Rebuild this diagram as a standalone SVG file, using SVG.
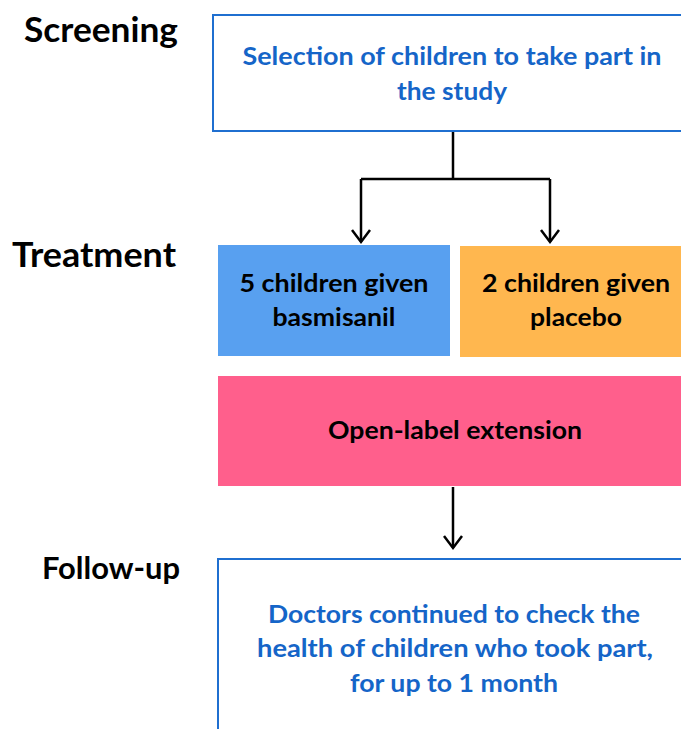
<svg xmlns="http://www.w3.org/2000/svg" width="681" height="729" viewBox="0 0 681 729">
<style>
.lbl{font-family:Lato,"Open Sans","Liberation Sans",sans-serif;font-weight:bold;fill:#000;text-anchor:end}
.bt{font-family:Lato,"Open Sans","Liberation Sans",sans-serif;font-weight:bold;font-size:24.5px;text-anchor:middle}
.blue{fill:#1565c8}
.blk{fill:#000}
.conn{fill:none;stroke:#000;stroke-width:2.5}
</style>
<defs>
<marker id="ah" markerWidth="20" markerHeight="20" refX="14" refY="10" orient="auto" markerUnits="userSpaceOnUse" viewBox="0 0 20 20">
<path d="M2,1 L14,10 L2,19" fill="none" stroke="#000" stroke-width="2.5"/>
</marker>
</defs>
<rect width="681" height="729" fill="#fff"/>
<g id="labels">
<text class="lbl" x="178" y="42" font-size="35" textLength="154" lengthAdjust="spacingAndGlyphs">Screening</text>
<text class="lbl" x="176" y="267" font-size="35" textLength="164" lengthAdjust="spacingAndGlyphs">Treatment</text>
<text class="lbl" x="180" y="579" font-size="30" textLength="138" lengthAdjust="spacingAndGlyphs">Follow-up</text>
</g>
<g id="node-screening">
<rect x="213" y="15" width="480" height="116" fill="#fff" stroke="#1f6fd0" stroke-width="2"/>
<text class="bt blue" x="452" y="65" textLength="419" lengthAdjust="spacingAndGlyphs">Selection of children to take part in</text>
<text class="bt blue" x="452" y="100" textLength="110" lengthAdjust="spacingAndGlyphs">the study</text>
</g>
<g id="node-basmisanil">
<rect x="218" y="245" width="232" height="111" fill="#58a0f0"/>
<text class="bt blk" x="334" y="292" textLength="189" lengthAdjust="spacingAndGlyphs">5 children given</text>
<text class="bt blk" x="334" y="326" textLength="123" lengthAdjust="spacingAndGlyphs">basmisanil</text>
</g>
<g id="node-placebo">
<rect x="460" y="246" width="230" height="111" fill="#ffb74f"/>
<text class="bt blk" x="576" y="292" textLength="188" lengthAdjust="spacingAndGlyphs">2 children given</text>
<text class="bt blk" x="576" y="326" textLength="92" lengthAdjust="spacingAndGlyphs">placebo</text>
</g>
<g id="node-ole">
<rect x="218" y="376" width="470" height="110" fill="#ff5f8c"/>
<text class="bt blk" x="455" y="439" textLength="254" lengthAdjust="spacingAndGlyphs">Open-label extension</text>
</g>
<g id="node-followup">
<rect x="218" y="559" width="480" height="190" fill="#fff" stroke="#1f6fd0" stroke-width="2"/>
<text class="bt blue" x="454" y="623" textLength="372" lengthAdjust="spacingAndGlyphs">Doctors continued to check the</text>
<text class="bt blue" x="455" y="657" textLength="396" lengthAdjust="spacingAndGlyphs">health of children who took part,</text>
<text class="bt blue" x="454" y="692" textLength="208" lengthAdjust="spacingAndGlyphs">for up to 1 month</text>
</g>
<g id="connectors">
<path class="conn" d="M453,132 V179"/>
<path class="conn" d="M361,179 H550"/>
<path class="conn" d="M361,179 V242" marker-end="url(#ah)"/>
<path class="conn" d="M550,179 V242" marker-end="url(#ah)"/>
<path class="conn" d="M453,487 V548" marker-end="url(#ah)"/>
</g>
</svg>
